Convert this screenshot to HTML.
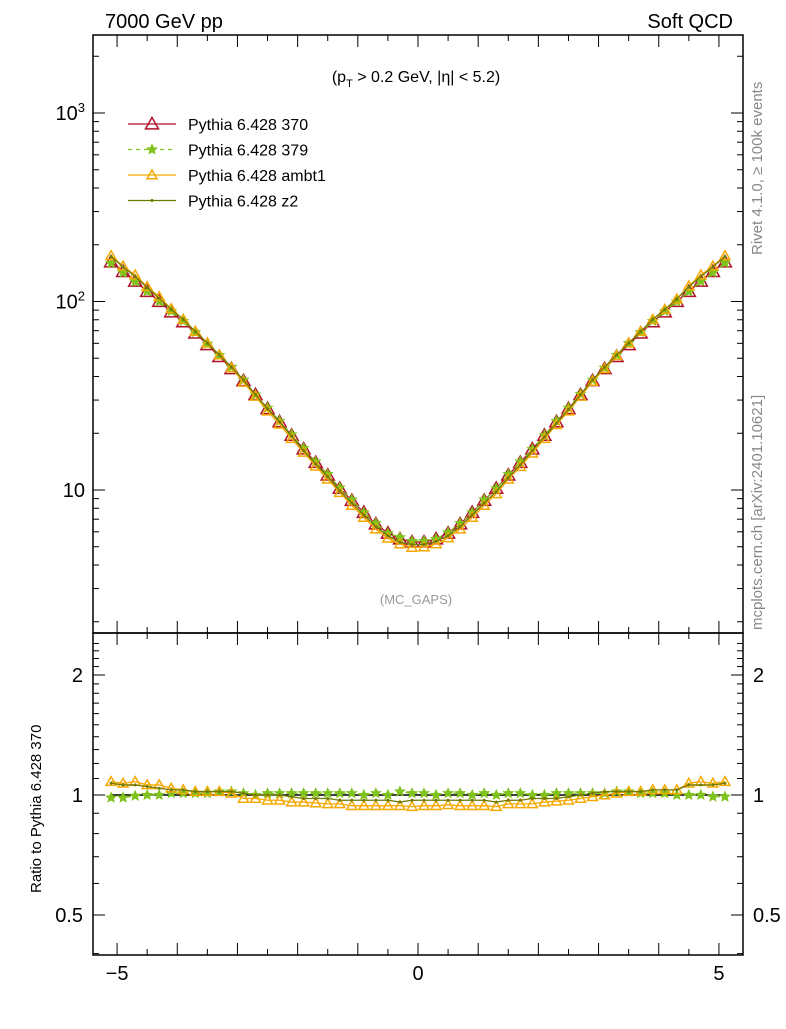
<!DOCTYPE html>
<html><head><meta charset="utf-8"><style>
body{margin:0;background:#fff;}
svg text{font-family:"Liberation Sans",sans-serif;}
</style></head><body>
<svg id="c" width="786" height="1024" xmlns="http://www.w3.org/2000/svg">
<rect width="786" height="1024" fill="#fff"/>
<text x="105" y="28" font-size="20">7000 GeV pp</text>
<text x="733" y="28" font-size="20" text-anchor="end">Soft QCD</text>
<text x="416" y="82" font-size="16" text-anchor="middle">(p<tspan font-size="11" dy="5">T</tspan><tspan dy="-5"> &gt; 0.2 GeV, |η| &lt; 5.2)</tspan></text>
<text x="416" y="604" font-size="13" fill="#999" text-anchor="middle">(MC_GAPS)</text>
<text transform="translate(762,255) rotate(-90)" font-size="15" fill="#888">Rivet 4.1.0, ≥ 100k events</text>
<text transform="translate(762,630) rotate(-90)" font-size="15" fill="#888">mcplots.cern.ch [arXiv:2401.10621]</text>
<text transform="translate(41,893) rotate(-90)" font-size="15">Ratio to Pythia 6.428 370</text>
<g id="g"></g>
</svg>
<script>
const xCenters=[-5.1,-4.9,-4.7,-4.5,-4.3,-4.1,-3.9,-3.7,-3.5,-3.3,-3.1,-2.9,-2.7,-2.5,-2.3,-2.1,-1.9,-1.7,-1.5,-1.3,-1.1,-0.9,-0.7,-0.5,-0.3,-0.1,0.1,0.3,0.5,0.7,0.9,1.1,1.3,1.5,1.7,1.9,2.1,2.3,2.5,2.7,2.9,3.1,3.3,3.5,3.7,3.9,4.1,4.3,4.5,4.7,4.9,5.1];
const val370=[162,144,128,113,100,88,78,68,59,51,44,38,32,27,23,19.5,16.5,14,12,10.2,8.8,7.6,6.6,5.9,5.5,5.3,5.3,5.5,5.9,6.6,7.6,8.8,10.2,12,14,16.5,19.5,23,27,32,38,44,51,59,68,78,88,100,113,128,144,162];
const r379=[0.985,0.985,0.995,1.0,1.0,1.01,1.01,1.01,1.01,1.02,1.02,1.01,1.0,1.01,1.01,1.01,1.01,1.01,1.01,1.01,1.01,1.0,1.01,1.0,1.02,1.01,1.01,1.0,1.01,1.01,1.0,1.01,1.0,1.01,1.01,1.0,1.0,1.01,1.01,1.01,1.01,1.01,1.02,1.02,1.01,1.01,1.01,1.0,1.0,1.0,0.99,0.99];
const rAmbt1=[1.08,1.07,1.08,1.06,1.06,1.04,1.03,1.02,1.02,1.02,1.01,0.98,0.98,0.97,0.97,0.96,0.96,0.955,0.95,0.95,0.94,0.94,0.94,0.94,0.94,0.935,0.94,0.94,0.945,0.94,0.94,0.94,0.935,0.95,0.95,0.95,0.96,0.965,0.97,0.98,0.99,1.0,1.01,1.02,1.02,1.03,1.03,1.03,1.07,1.08,1.07,1.08];
const rZ2=[1.07,1.06,1.06,1.05,1.04,1.03,1.03,1.02,1.02,1.02,1.02,1.01,1.0,1.0,1.0,0.99,0.98,0.98,0.98,0.97,0.97,0.97,0.97,0.97,0.96,0.97,0.97,0.97,0.97,0.97,0.97,0.97,0.96,0.97,0.97,0.98,0.98,0.98,0.99,1.0,1.01,1.02,1.02,1.02,1.02,1.03,1.03,1.03,1.06,1.06,1.06,1.07];
const xTicks=[-5,0,5], mainTicks=[10,100,1000], mainTickLabels=["10","10²","10³"], ratioTicks=[0.5,1,2], ratioTickLabels=["0.5","1","2"];

const NS="http://www.w3.org/2000/svg", G=document.getElementById('g');
const L=93,R=743,T1=35,B1=633,B2=955;
const X=v=>418+v*(R-L)/10.8;
const Y1=v=>490-(Math.log10(v)-1)*188.5;
const Y2=v=>795-Math.log10(v)*398.6;
function el(t,a,p){const e=document.createElementNS(NS,t);for(const k in a)e.setAttribute(k,a[k]);(p||G).appendChild(e);return e;}
const f1=el('rect',{x:L,y:T1,width:R-L,height:B1-T1,fill:'none',stroke:'#000','stroke-width':1.5});

const f2=el('rect',{x:L,y:B1,width:R-L,height:B2-B1,fill:'none',stroke:'#000','stroke-width':1.5});

for(let v=-5;v<=5.001;v+=0.5){const maj=Math.abs(v-Math.round(v))<1e-6;const len=maj?12:6;const x=X(v);
 for(const [yb,yt] of [[B1,T1],[B2,B1]]){el('line',{x1:x,x2:x,y1:yb,y2:yb-len,stroke:'#000'});el('line',{x1:x,x2:x,y1:yt,y2:yt+len,stroke:'#000'});}}
xTicks.forEach(v=>{const t=el('text',{x:X(v),y:980,'font-size':20,'text-anchor':'middle'});t.textContent=v<0?'−'+(-v):v;
 });
for(let d=0;d<=3;d++)for(let m=1;m<=9;m++){const v=m*Math.pow(10,d);const y=Y1(v);if(y<T1||y>B1)continue;const len=m==1?12:6;
 el('line',{x1:L,x2:L+len,y1:y,y2:y,stroke:'#000'});el('line',{x1:R,x2:R-len,y1:y,y2:y,stroke:'#000'});}
mainTicks.forEach((v,i)=>{const t=el('text',{x:L-8,y:Y1(v)+7,'font-size':20,'text-anchor':'end'});
 if(i==0)t.textContent='10';else{t.textContent='10';const s=el('tspan',{dy:-8,'font-size':13},t);s.textContent=String(i+1);}
 });
for(let v=0.4;v<=2.5;v+=0.1){const y=Y2(v);if(y<B1||y>B2)continue;const maj=[0.5,1,2].some(q=>Math.abs(q-v)<1e-6);const len=maj?12:6;
 el('line',{x1:L,x2:L+len,y1:y,y2:y,stroke:'#000'});el('line',{x1:R,x2:R-len,y1:y,y2:y,stroke:'#000'});}
ratioTicks.forEach((v,i)=>{for(const [x,a] of [[L-10,'end'],[R+10,'start']]){const t=el('text',{x:x,y:Y2(v)+7,'font-size':20,'text-anchor':a});t.textContent=ratioTickLabels[i];
 }});
const series=[
 {name:'370',col:'#b0102a',r:xCenters.map(()=>1),mk:'tri',sz:6.5,dash:null,lab:'Pythia 6.428 370'},
 {name:'379',col:'#7fc31c',r:r379,mk:'star',sz:5,dash:'4,4',lab:'Pythia 6.428 379'},
 {name:'ambt1',col:'#f5a800',r:rAmbt1,mk:'tri',sz:5,dash:null,lab:'Pythia 6.428 ambt1'},
 {name:'z2',col:'#6f7a00',r:rZ2,mk:'dot',sz:1.5,dash:null,lab:'Pythia 6.428 z2'}];
function marker(g,mk,x,y,s,col){
 if(mk=='tri')return el('polygon',{points:`${x},${y-s} ${x-s},${y+s*0.75} ${x+s},${y+s*0.75}`,fill:'none',stroke:col,'stroke-width':1.5},g);
 if(mk=='star'){let p=[];for(let k=0;k<10;k++){const a=-Math.PI/2+k*Math.PI/5,rr=k%2?s*0.45:s;p.push((x+rr*Math.cos(a)).toFixed(1)+','+(y+rr*Math.sin(a)).toFixed(1));}return el('polygon',{points:p.join(' '),fill:col,stroke:col},g);}
 return el('circle',{cx:x,cy:y,r:s,fill:col},g);}
series.forEach((s,si)=>{
 const vals=val370.map((v,i)=>v*s.r[i]);
 const g=el('g',{});
 const p1=xCenters.map((x,i)=>X(x)+','+Y1(vals[i])).join(' ');
 const a={points:p1,fill:'none',stroke:s.col,'stroke-width':1.3};if(s.dash)a['stroke-dasharray']=s.dash;el('polyline',a,g);
 xCenters.forEach((x,i)=>marker(g,s.mk,X(x),Y1(vals[i]),s.sz,s.col));
 const g2=el('g',{});
 const p2=xCenters.map((x,i)=>X(x)+','+Y2(s.r[i])).join(' ');
 const b={points:p2,fill:'none',stroke:si==0?'#000':s.col,'stroke-width':si==0?1.5:1.3};if(s.dash)b['stroke-dasharray']=s.dash;el('polyline',b,g2);
 if(si>0)xCenters.forEach((x,i)=>marker(g2,s.mk,X(x),Y2(s.r[i]),s.sz,s.col));
 const ly=124+si*25.5;const lg=el('g',{});
 const c={x1:128,x2:176,y1:ly,y2:ly,stroke:s.col,'stroke-width':1.3};if(s.dash)c['stroke-dasharray']=s.dash;el('line',c,lg);
 marker(lg,s.mk,152,ly,s.sz,s.col);
 const t=el('text',{x:188,y:ly+6,'font-size':16},lg);t.textContent=s.lab;
});
</script>
</body></html>
